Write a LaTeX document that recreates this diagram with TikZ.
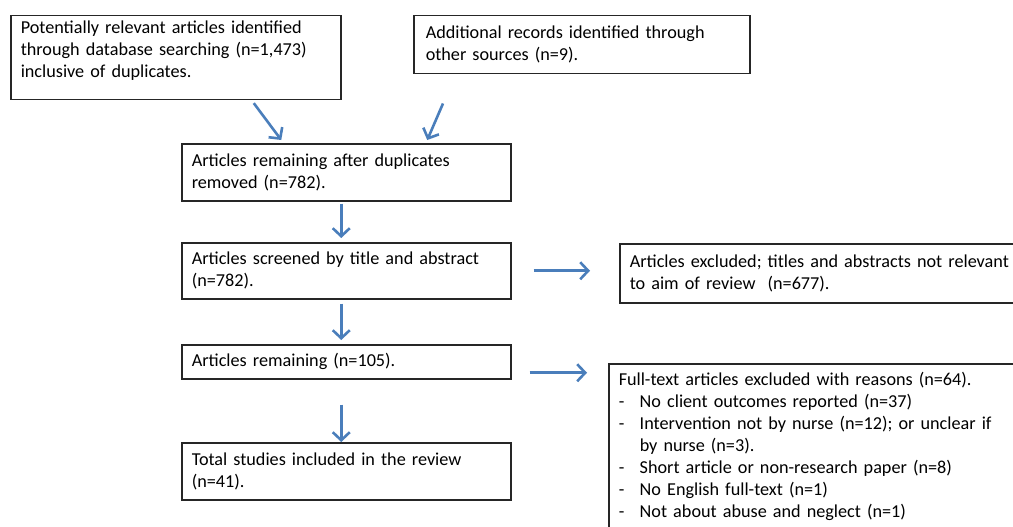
\documentclass[tikz,border=0pt]{standalone}
\usepackage{fontspec}
\setmainfont{Carlito}
\usetikzlibrary{arrows.meta}
\definecolor{arrowblue}{RGB}{74,126,187}
\tikzset{
  box/.style={draw=black!85, line width=1.5pt, anchor=north west, align=left,
    inner xsep=10pt, inner ysep=5pt, font=\fontsize{18.2}{22}\selectfont},
  flow/.style={draw=arrowblue, line width=2.6pt, -{Straight Barb[length=8pt,width=17pt,line width=2.6pt]}}
}
\begin{document}
\begin{tikzpicture}[x=1pt, y=-1pt]
        % page and clip
        \useasboundingbox (0,0) rectangle (1013,527);
        \clip (0,0) rectangle (1013,527);
        % Boxes:
        \node[box, text width=310pt, text depth=61pt](A) at (10,15){Potentially relevant articles identified\\through database searching (n=1,473)\\inclusive of duplicates.};
        \node[box, text width=312pt, minimum height=58pt, inner xsep=12pt](B) at (413,15){Additional records identified through\\other sources (n=9).};
        \node[box, text width=309pt, minimum height=57pt](C) at (181,143){Articles remaining after duplicates\\removed (n=782).};
        \node[box, text width=309pt, minimum height=56pt](D) at (181,242){Articles screened by title and abstract\\(n=782).};
        \node[box, text width=309pt, minimum height=34pt](E) at (181,344){Articles remaining (n=105).};
        \node[box, text width=309pt, minimum height=57pt](F) at (181,442){Total studies included in the review\\(n=41).};
        \node[box, text width=420pt, minimum height=59pt](G) at (619,243){Articles excluded; titles and abstracts not relevant\\to aim of review~ (n=677).};
        \node[box, text width=420pt, text depth=160pt, inner ysep=8pt](H) at (608,363){Full-text articles excluded with reasons (n=64).\\
          \makebox[21pt][l]{-}No client outcomes reported (n=37)\\
          \makebox[21pt][l]{-}Intervention not by nurse (n=12); or unclear if\\
          \hspace*{21pt}by nurse (n=3).\\
          \makebox[21pt][l]{-}Short article or non-research paper (n=8)\\
          \makebox[21pt][l]{-}No English full-text (n=1)\\
          \makebox[21pt][l]{-}Not about abuse and neglect (n=1)};
        % Arrows:
        \draw[flow] ([xshift=78pt,yshift=-3pt]A.south) -- ([xshift=-65pt,yshift=3pt]C.north);
        \draw[flow] ([xshift=30pt,yshift=-29pt]B.south west) -- ([xshift=81pt,yshift=3pt]C.north);
        \draw[flow, shorten <=2pt, shorten >=4pt] ([xshift=-5pt]C.south) -- ([xshift=-5pt]D.north);
        \draw[flow, shorten <=4pt, shorten >=4pt] ([xshift=-5pt]D.south) -- ([xshift=-5pt]E.north);
        \draw[flow, shorten <=25pt] ([xshift=-5pt]E.south) -- ([xshift=-5pt]F.north);
        \draw[flow, shorten <=22pt, shorten >=29pt] (D.east) -- (D.east -| G.west);
        \draw[flow, shorten <=18pt, shorten >=21pt] ([yshift=-11pt]E.east) -- ([yshift=-11pt]E.east -| H.west);
    \end{tikzpicture}
\end{document}
